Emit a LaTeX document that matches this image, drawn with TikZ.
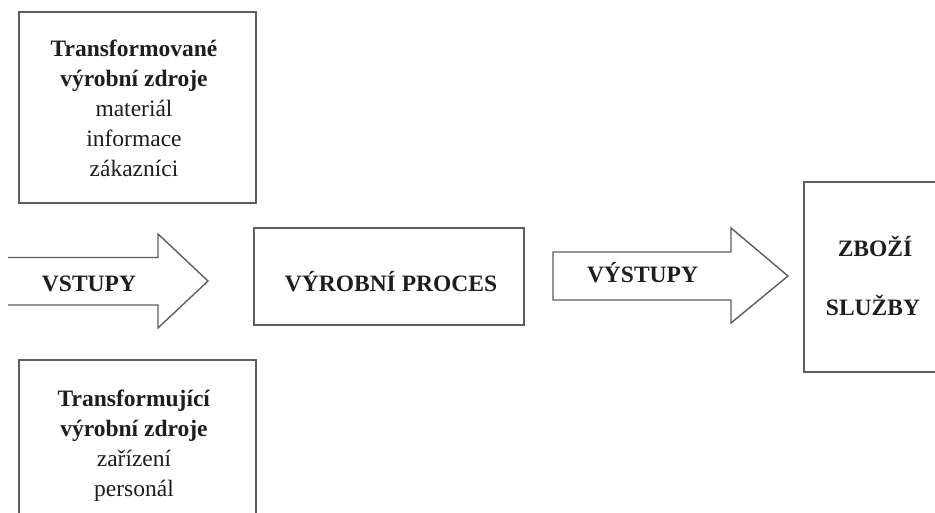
\documentclass[tikz,border=0pt]{standalone}
\usepackage{fontspec}
\setmainfont{Liberation Serif}
\definecolor{linegray}{HTML}{5E5E5E}
\definecolor{textblack}{HTML}{1E1E1E}
\tikzset{
  box/.style={draw=linegray, line width=1.4pt, fill=none, inner sep=0pt, rectangle},
  blockarrow/.style={draw=linegray, line width=1.4pt, line join=miter},
  lbl/.style={inner sep=0pt, anchor=base, text=textblack, font=\fontsize{23.5}{30}\selectfont},
}
\newcommand{\boxtext}[1]{\parbox[t]{230pt}{\centering\fontsize{23.5}{30}\selectfont #1}}
\begin{document}
\begin{tikzpicture}[x=1pt,y=-1pt]
  \useasboundingbox (0,0) rectangle (935,513);
  \clip (0,0) rectangle (935,513);
  \fill[white] (0,0) rectangle (935,513);
  % boxes
  \node[box, minimum width=237pt, minimum height=191pt] (top) at (137.5,107.5) {};
  \node[box, minimum width=237pt, minimum height=180pt] (bottom) at (137.5,450) {};
  \node[box, minimum width=270pt, minimum height=97pt] (proc) at (389,276.5) {};
  \node[box, minimum width=142pt, minimum height=190pt] (goods) at (875,277) {};
  % box texts
  \node[lbl] (toptext) at (134,57) {\boxtext{\textbf{Transformované}\\\textbf{výrobní zdroje}\\materiál\\informace\\zákazníci}};
  \node[lbl] (bottomtext) at (134,406) {\boxtext{\textbf{Transformující}\\\textbf{výrobní zdroje}\\zařízení\\personál}};
  \node[lbl, font=\bfseries\fontsize{23.5}{30}\selectfont] (proctext) at (391,291) {VÝROBNÍ PROCES};
  \node[lbl, font=\bfseries\fontsize{23.5}{30}\selectfont] (zbozi) at (875,257) {ZBOŽÍ};
  \node[lbl, font=\bfseries\fontsize{23.5}{30}\selectfont] (sluzby) at (873,316) {SLUŽBY};
  % input arrow (open at left end)
  \draw[blockarrow] (8,257.5) -- (158,257.5) -- (158,234) -- (208,281) -- (158,328) -- (158,305) -- (8,305);
  \node[lbl, font=\bfseries\fontsize{23.5}{30}\selectfont] (vstupy) at (89,291) {VSTUPY};
  % output arrow
  \draw[blockarrow] (553,252) -- (731,252) -- (731,228) -- (788,276) -- (731,323) -- (731,300) -- (553,300) -- cycle;
  \node[lbl, font=\bfseries\fontsize{23.5}{30}\selectfont] (vystupy) at (642.5,283) {VÝSTUPY};
\end{tikzpicture}
\end{document}
